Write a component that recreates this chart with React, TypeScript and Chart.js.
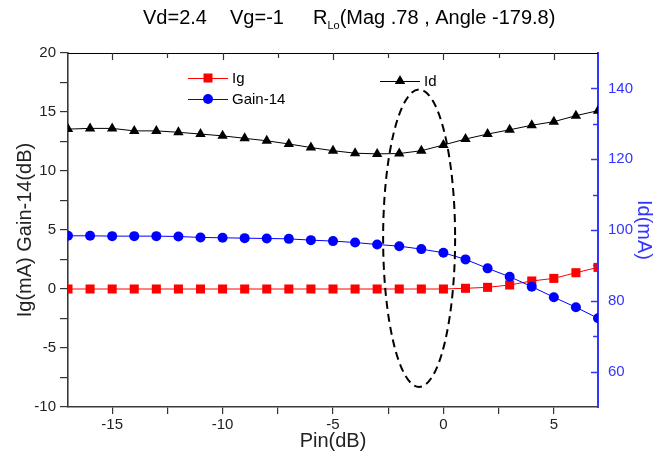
import React, { useEffect, useRef } from "react";
import { Chart, registerables } from "chart.js";

Chart.register(...registerables);

// ---- data ----
const pinDb = [-17, -16, -15, -14, -13, -12, -11, -10, -9, -8, -7, -6, -5, -4, -3, -2, -1, 0, 1, 2, 3, 4, 5, 6, 7];
const igMa = [0, 0, 0, 0, 0, 0, 0, 0, 0, 0, 0, 0, 0, 0, 0, 0, 0, 0, 0.06, 0.14, 0.34, 0.68, 0.9, 1.38, 1.83];
const gainMinus14 = [4.51, 4.51, 4.48, 4.48, 4.48, 4.45, 4.37, 4.34, 4.31, 4.28, 4.25, 4.14, 4.06, 3.94, 3.77, 3.63, 3.38, 3.07, 2.51, 1.75, 1.04, 0.2, -0.7, -1.55, -2.48];
const idMa = [128.5, 128.7, 128.7, 128.0, 128.0, 127.6, 127.1, 126.6, 125.9, 125.2, 124.3, 123.3, 122.4, 121.7, 121.5, 121.6, 122.4, 124.0, 125.7, 127.1, 128.3, 129.6, 130.6, 132.3, 133.7];

const xTicks = [-15, -12.5, -10, -7.5, -5, -2.5, 0, 2.5, 5];
const xTickLabels = [-15, -10, -5, 0, 5];
const leftTicks = [-10, -7.5, -5, -2.5, 0, 2.5, 5, 7.5, 10, 12.5, 15, 17.5, 20];
const leftTickLabels = [-10, -5, 0, 5, 10, 15, 20];
const rightTicks = [60, 70, 80, 90, 100, 110, 120, 130, 140];
const rightTickLabels = [60, 80, 100, 120, 140];

const ellipseCenter = [-1.1, 4.3]; // (Pin, left-axis value)
const ellipseRadii = [1.63, 12.6];

const FONT = '"Liberation Sans", Arial, sans-serif';
const BLUE_AXIS = "#3434ff";

const overlayPlugin = {
  id: "overlay",
  afterDraw(chart: any) {
    const { ctx, chartArea, scales } = chart;
    const { left, right, top } = chartArea;
    const xs = scales.x;
    const yl = scales.y;
    const yr = scales.y2;
    ctx.save();

    // top frame line with inward ticks
    ctx.strokeStyle = "#000";
    ctx.lineWidth = 1;
    ctx.beginPath();
    ctx.moveTo(left, top + 0.5);
    ctx.lineTo(right, top + 0.5);
    ctx.stroke();
    ctx.strokeStyle = "#333";
    ctx.lineWidth = 1.2;
    for (const v of xTicks) {
      const px = Math.round(xs.getPixelForValue(v)) + 0.5;
      const len = xTickLabels.includes(v) ? 7 : 5;
      ctx.beginPath();
      ctx.moveTo(px, top);
      ctx.lineTo(px, top + len);
      ctx.stroke();
    }

    // right axis inward ticks
    ctx.strokeStyle = BLUE_AXIS;
    ctx.lineWidth = 1.5;
    for (const v of rightTicks) {
      const py = Math.round(yr.getPixelForValue(v)) + 0.5;
      const len = rightTickLabels.includes(v) ? 7 : 5;
      ctx.beginPath();
      ctx.moveTo(right, py);
      ctx.lineTo(right - len, py);
      ctx.stroke();
    }

    // dashed ellipse
    const cx = xs.getPixelForValue(ellipseCenter[0]);
    const cy = yl.getPixelForValue(ellipseCenter[1]);
    const rx = Math.abs(xs.getPixelForValue(ellipseCenter[0] + ellipseRadii[0]) - cx);
    const ry = Math.abs(yl.getPixelForValue(ellipseCenter[1] + ellipseRadii[1]) - cy);
    ctx.strokeStyle = "#000";
    ctx.lineWidth = 2;
    ctx.setLineDash([8, 5]);
    ctx.beginPath();
    ctx.ellipse(cx, cy, rx, ry, 0, 0, Math.PI * 2);
    ctx.stroke();
    ctx.setLineDash([]);

    // legend
    const drawLegend = (x0: number, y: number, color: string, shape: string, text: string) => {
      ctx.strokeStyle = color;
      ctx.lineWidth = 1;
      ctx.beginPath();
      ctx.moveTo(x0, y + 0.5);
      ctx.lineTo(x0 + 40, y + 0.5);
      ctx.stroke();
      const mx = x0 + 20;
      ctx.fillStyle = color;
      ctx.beginPath();
      if (shape === "rect") {
        ctx.rect(mx - 4.5, y - 4.5, 9, 9);
      } else if (shape === "circle") {
        ctx.arc(mx, y, 5, 0, Math.PI * 2);
      } else {
        const r = 6;
        ctx.moveTo(mx, y - r);
        ctx.lineTo(mx + r * 0.866, y + r * 0.5);
        ctx.lineTo(mx - r * 0.866, y + r * 0.5);
        ctx.closePath();
      }
      ctx.fill();
      ctx.fillStyle = "#000";
      ctx.font = `15px ${FONT}`;
      ctx.textBaseline = "middle";
      ctx.textAlign = "left";
      ctx.fillText(text, x0 + 44, y + 1);
    };
    drawLegend(188, 78, "#ff0000", "rect", "Ig");
    drawLegend(188, 99, "#0000ff", "circle", "Gain-14");
    drawLegend(380, 81, "#000000", "triangle", "Id");

    // title
    ctx.fillStyle = "#000";
    ctx.textBaseline = "alphabetic";
    ctx.textAlign = "left";
    const big = `20px ${FONT}`;
    const small = `11px ${FONT}`;
    const base = 24;
    ctx.font = big;
    ctx.fillText("Vd=2.4", 143, base);
    ctx.fillText("Vg=-1", 230, base);
    let x = 313;
    ctx.fillText("R", x, base);
    x += ctx.measureText("R").width;
    ctx.font = small;
    ctx.fillText("Lo", x, base + 5);
    x += ctx.measureText("Lo").width;
    ctx.font = big;
    ctx.fillText("(Mag .78 , Angle -179.8)", x, base);

    ctx.restore();
  },
};

export default function App() {
  const canvasRef = useRef<HTMLCanvasElement | null>(null);

  useEffect(() => {
    const canvas = canvasRef.current;
    if (!canvas) return;

    const toPoints = (ys: number[]) => pinDb.map((x, i) => ({ x, y: ys[i] }));

    const chart = new Chart(canvas, {
      type: "line",
      data: {
        datasets: [
          {
            label: "Gain-14",
            data: toPoints(gainMinus14),
            yAxisID: "y",
            borderColor: "#0000ff",
            backgroundColor: "#0000ff",
            borderWidth: 1,
            pointStyle: "circle",
            pointRadius: 5,
            pointBorderWidth: 0,
            tension: 0,
          },
          {
            label: "Ig",
            data: toPoints(igMa),
            yAxisID: "y",
            borderColor: "#ff0000",
            backgroundColor: "#ff0000",
            borderWidth: 1,
            pointStyle: "rect",
            pointRadius: 6.4,
            pointBorderWidth: 0,
            tension: 0,
          },
          {
            label: "Id",
            data: toPoints(idMa),
            yAxisID: "y2",
            borderColor: "#000000",
            backgroundColor: "#000000",
            borderWidth: 1,
            pointStyle: "triangle",
            pointRadius: 6,
            pointBorderWidth: 0,
            tension: 0,
          },
        ],
      },
      options: {
        responsive: false,
        animation: false,
        events: [],
        layout: { padding: { top: 53, left: 0, right: 0, bottom: 0 } },
        plugins: {
          legend: { display: false },
          title: { display: false },
          tooltip: { enabled: false },
        },
        scales: {
          x: {
            type: "linear",
            position: "bottom",
            min: -17,
            max: 7,
            afterBuildTicks: (scale: any) => {
              scale.ticks = xTicks.map((v) => ({ value: v }));
            },
            afterFit: (scale: any) => {
              scale.height = 52;
            },
            ticks: {
              autoSkip: false,
              maxRotation: 0,
              padding: 2,
              color: "#222",
              font: { family: FONT, size: 15 },
              callback: (v: any) => (xTickLabels.includes(Number(v)) ? String(v) : ""),
            },
            grid: { drawOnChartArea: false, drawTicks: true, tickLength: 7, color: "#333", lineWidth: 1.2 },
            border: { display: true, color: "#3a3a3a", width: 1.6 },
            title: {
              display: true,
              text: "Pin(dB)",
              color: "#222",
              font: { family: FONT, size: 20 },
              padding: { top: 0, bottom: 6 },
            },
          },
          y: {
            type: "linear",
            position: "left",
            min: -10,
            max: 20,
            afterBuildTicks: (scale: any) => {
              scale.ticks = leftTicks.map((v) => ({ value: v }));
            },
            afterFit: (scale: any) => {
              scale.width = 68;
            },
            ticks: {
              autoSkip: false,
              padding: 4,
              color: "#222",
              font: { family: FONT, size: 15 },
              callback: (v: any) => (leftTickLabels.includes(Number(v)) ? String(v) : ""),
            },
            grid: { drawOnChartArea: false, drawTicks: true, tickLength: 8, color: "#333", lineWidth: 1.2 },
            border: { display: true, color: "#3a3a3a", width: 1.6 },
            title: {
              display: true,
              text: "Ig(mA) Gain-14(dB)",
              color: "#222",
              font: { family: FONT, size: 20 },
              padding: { top: 13, bottom: 0 },
            },
          },
          y2: {
            type: "linear",
            position: "right",
            min: 50,
            max: 150,
            afterBuildTicks: (scale: any) => {
              scale.ticks = rightTicks.map((v) => ({ value: v }));
            },
            afterFit: (scale: any) => {
              scale.width = 67;
            },
            ticks: {
              autoSkip: false,
              padding: 10,
              color: BLUE_AXIS,
              font: { family: FONT, size: 15 },
              callback: (v: any) => (rightTickLabels.includes(Number(v)) ? String(v) : ""),
            },
            grid: { drawOnChartArea: false, drawTicks: false },
            border: { display: true, color: BLUE_AXIS, width: 2 },
            title: {
              display: true,
              text: "Id(mA)",
              color: BLUE_AXIS,
              font: { family: FONT, size: 20 },
              padding: { top: 9, bottom: 0 },
            },
          },
        },
      },
      plugins: [overlayPlugin],
    } as any);

    return () => {
      chart.destroy();
    };
  }, []);

  return (
    <div style={{ position: "absolute", left: 0, top: 0, width: 665, height: 459, background: "#fff" }}>
      <canvas ref={canvasRef} width={665} height={459} style={{ display: "block" }} />
    </div>
  );
}
